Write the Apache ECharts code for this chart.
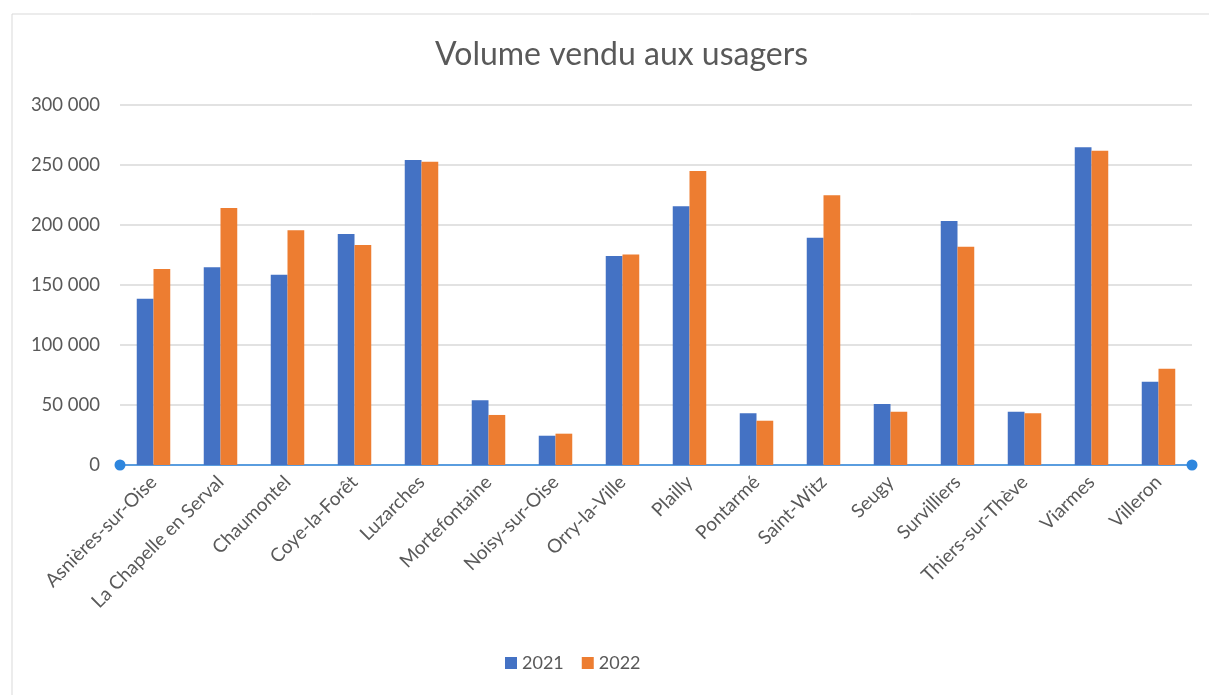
<!DOCTYPE html>
<html>
<head>
<meta charset="utf-8">
<script src="https://cdn.jsdelivr.net/npm/echarts@6/dist/echarts.min.js"></script>
<style>
  html, body { margin: 0; padding: 0; background: #fff; }
  #chart { width: 1209px; height: 695px; }
</style>
</head>
<body>
<div id="chart"></div>
<script>
// ──── données ────
const communes = [
    'Asnières-sur-Oise', 'La Chapelle en Serval', 'Chaumontel', 'Coye-la-Forêt',
    'Luzarches', 'Mortefontaine', 'Noisy-sur-Oise', 'Orry-la-Ville', 'Plailly',
    'Pontarmé', 'Saint-Witz', 'Seugy', 'Survilliers', 'Thiers-sur-Thève',
    'Viarmes', 'Villeron',
];
const vol2021 = [
    138600, 164700, 158600, 192500, 254200, 53900, 24400, 174200, 215600,
    43100, 189400, 50800, 203300, 44400, 264700, 69400,
];
const vol2022 = [
    163300, 214200, 195600, 183300, 252800, 41700, 26100, 175500, 245000,
    36900, 224700, 44400, 181900, 43100, 261900, 80300,
];
const yTicks = [0, 50000, 100000, 150000, 200000, 250000, 300000];

const FONT = 'Lato, "Open Sans", sans-serif';
const GREY = '#595959';

// format « 300 000 »
function fmt(v) {
    return String(v).replace(/\B(?=(\d{3})+(?!\d))/g, ' ');
}

const chart = echarts.init(document.getElementById('chart'), null, { renderer: 'canvas' });

chart.setOption({
    animation: false,
    textStyle: { fontFamily: FONT },
    title: {
        text: 'Volume vendu aux usagers',
        left: 430,
        top: 34,
        textStyle: { fontFamily: FONT, fontSize: 32, fontWeight: 'normal', color: GREY },
    },
    graphic: [{
        type: 'rect',
        shape: { x: 12, y: 14, width: 1250, height: 800 },
        style: { fill: 'none', stroke: '#d9d9d9', lineWidth: 1 },
        silent: true,
    }],
    legend: {
        top: 649,
        left: 500,
        itemWidth: 12,
        itemHeight: 12,
        itemGap: 18,
        icon: 'rect',
        textStyle: { fontFamily: FONT, fontSize: 18, color: GREY },
        data: ['2021', '2022'],
    },
    grid: { left: 120, right: 17, top: 105, bottom: 230 },
    xAxis: {
        type: 'category',
        data: communes,
        axisTick: { show: false },
        axisLine: {
            lineStyle: { color: '#2e86de', width: 1.5 },
            symbol: ['circle', 'circle'],
            symbolSize: [11, 11],
        },
        axisLabel: {
            interval: 0,
            rotate: 45,
            margin: 14,
            fontFamily: FONT,
            fontSize: 19,
            color: GREY,
        },
    },
    yAxis: {
        type: 'value',
        min: yTicks[0],
        max: yTicks[yTicks.length - 1],
        interval: yTicks[1] - yTicks[0],
        axisLine: { show: false },
        axisTick: { show: false },
        splitLine: { lineStyle: { color: '#d9d9d9', width: 1.5 } },
        axisLabel: {
            margin: 20,
            fontFamily: FONT,
            fontSize: 18.5,
            color: GREY,
            formatter: fmt,
        },
    },
    series: [
        {
            name: '2021',
            type: 'bar',
            data: vol2021,
            barGap: '0%',
            barCategoryGap: '50%',
            itemStyle: { color: '#4472c4' },
        },
        {
            name: '2022',
            type: 'bar',
            data: vol2022,
            barGap: '0%',
            barCategoryGap: '50%',
            itemStyle: { color: '#ed7d31' },
        },
    ],
});
</script>
</body>
</html>
